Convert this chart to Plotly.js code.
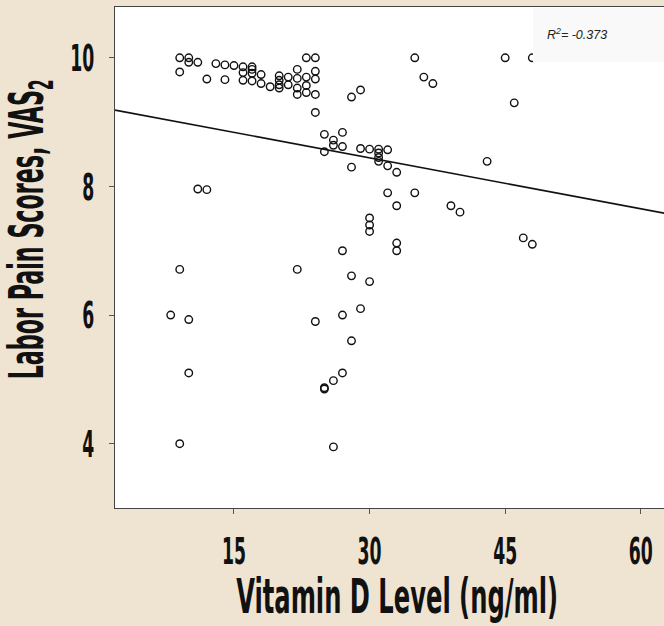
<!DOCTYPE html>
<html><head><meta charset="utf-8">
<script src="https://cdn.plot.ly/plotly-3.0.1.min.js"></script>
<style>html,body{margin:0;padding:0;background:#efe4d2;overflow:hidden;}#chart{width:670px;height:626px;}</style>
</head><body><div id="chart"></div>
<script>
// Vitamin D level (ng/ml) and labour pain score (VAS2), paired point by point
const vitaminD = [
  8,
  9, 9, 9, 9,
  10, 10, 10, 10,
  11, 11,
  12, 12,
  13,
  14, 14,
  15,
  16, 16, 16,
  17, 17, 17, 17,
  18, 18,
  19,
  20, 20, 20, 20,
  21, 21,
  22, 22, 22, 22, 22,
  23, 23, 23, 23,
  24, 24, 24, 24, 24, 24,
  25, 25, 25, 25,
  26, 26, 26, 26,
  27, 27, 27, 27, 27,
  28, 28, 28, 28,
  29, 29, 29,
  30, 30, 30, 30, 30,
  31, 31, 31, 31,
  32, 32, 32,
  33, 33, 33, 33,
  35, 35,
  36,
  37,
  39,
  40,
  43,
  45,
  46,
  47,
  48, 48
];
const painVAS = [
  6.00,
  10.00, 9.78, 6.71, 4.00,
  10.00, 9.93, 5.93, 5.10,
  9.93, 7.96,
  9.67, 7.95,
  9.91,
  9.89, 9.66,
  9.88,
  9.86, 9.77, 9.65,
  9.86, 9.82, 9.76, 9.64,
  9.74, 9.60,
  9.55,
  9.72, 9.65, 9.58, 9.53,
  9.70, 9.58,
  9.82, 9.68, 9.53, 9.43, 6.71,
  10.00, 9.70, 9.57, 9.46,
  10.00, 9.79, 9.67, 9.43, 9.15, 5.90,
  8.81, 8.54, 4.87, 4.85,
  8.72, 8.64, 4.98, 3.95,
  8.84, 8.62, 7.00, 6.00, 5.10,
  9.39, 8.30, 6.61, 5.60,
  9.50, 8.59, 6.10,
  8.58, 7.51, 7.40, 7.30, 6.52,
  8.58, 8.52, 8.45, 8.39,
  8.57, 8.32, 7.90,
  8.22, 7.70, 7.12, 7.00,
  10.00, 7.90,
  9.70,
  9.60,
  7.70,
  7.60,
  8.39,
  10.00,
  9.30,
  7.20,
  10.00, 7.10
];
const xTickVals = [15, 30, 45, 60];
const yTickVals = [4, 6, 8, 10];
const fitIntercept = 9.236;
const fitSlope = -0.0264;
const rSquaredText = 'R<sup>2</sup>= -0.373';
const xTitleText = 'Vitamin D Level (ng/ml)';
const yTitleText = 'Labor Pain Scores, VAS<sub>2</sub>';

const xRange = [1.84, 63.23];
const yRange = [3.0, 10.79];
const fitX = xRange.slice();
const fitY = fitX.map(function (x) { return fitIntercept + fitSlope * x; });

const condensed = 'Liberation Sans Narrow, DejaVu Sans Condensed, Liberation Sans, sans-serif';

const traces = [
  {
    type: 'scatter', mode: 'markers', x: vitaminD, y: painVAS,
    marker: { symbol: 'circle-open', size: 7.5, color: '#111', line: { width: 1.4, color: '#111' } },
    hoverinfo: 'x+y', showlegend: false
  },
  {
    type: 'scatter', mode: 'lines', x: fitX, y: fitY,
    line: { color: '#111', width: 1.6 }, hoverinfo: 'skip', showlegend: false
  }
];

const layout = {
  width: 670, height: 626,
  margin: { l: 115, r: 0, t: 7, b: 118 },
  paper_bgcolor: '#efe4d2',
  plot_bgcolor: '#ffffff',
  showlegend: false,
  xaxis: {
    range: xRange, tickvals: xTickVals, ticktext: xTickVals.map(String),
    showgrid: false, zeroline: false, showline: true, mirror: true,
    linecolor: '#444', linewidth: 1.2,
    ticks: 'outside', ticklen: 5, tickcolor: '#555', tickwidth: 1,
    ticklabelstandoff: 4,
    tickfont: { family: condensed, size: 38, color: '#111', weight: 'bold' }
  },
  yaxis: {
    range: yRange, tickvals: yTickVals, ticktext: yTickVals.map(String),
    showgrid: false, zeroline: false, showline: true, mirror: true,
    linecolor: '#444', linewidth: 1.2,
    ticks: 'outside', ticklen: 5, tickcolor: '#555', tickwidth: 1,
    ticklabelstandoff: 7,
    tickfont: { family: condensed, size: 38, color: '#111', weight: 'bold' }
  },
  shapes: [
    { type: 'rect', xref: 'paper', yref: 'paper', x0: 0.753, x1: 1.02, y0: 0.89, y1: 0.998,
      fillcolor: '#f9f9f9', line: { width: 0 }, layer: 'above' }
  ],
  annotations: [
    { text: xTitleText, xref: 'paper', yref: 'paper', x: 0.508, y: -0.176,
      xanchor: 'center', yanchor: 'middle', showarrow: false,
      font: { family: condensed, size: 48, color: '#111', weight: 'bold' } },
    { text: yTitleText, xref: 'paper', yref: 'paper', x: -0.153, y: 0.555,
      xanchor: 'center', yanchor: 'middle', showarrow: false, textangle: -90,
      font: { family: condensed, size: 48, color: '#111', weight: 'bold' } },
    { text: rSquaredText, xref: 'paper', yref: 'paper', x: 0.832, y: 0.947,
      xanchor: 'center', yanchor: 'middle', showarrow: false,
      font: { family: 'Liberation Sans, Arial, sans-serif', size: 12.5, color: '#222', style: 'italic' } }
  ]
};

function squeeze(gd) {
  gd.querySelectorAll('.xtick text, .ytick text').forEach(function (t) {
    const n = t.textContent.length;
    t.setAttribute('textLength', n * 12);
    t.setAttribute('lengthAdjust', 'spacingAndGlyphs');
  });
  const targets = { '0': 322, '1': 300 };
  Object.keys(targets).forEach(function (i) {
    const t = gd.querySelector('g.annotation[data-index="' + i + '"] text.annotation-text');
    if (t) {
      t.setAttribute('textLength', targets[i]);
      t.setAttribute('lengthAdjust', 'spacingAndGlyphs');
    }
  });
}

Plotly.newPlot('chart', traces, layout, { staticPlot: true, displayModeBar: false }).then(squeeze);
</script>
</body></html>
